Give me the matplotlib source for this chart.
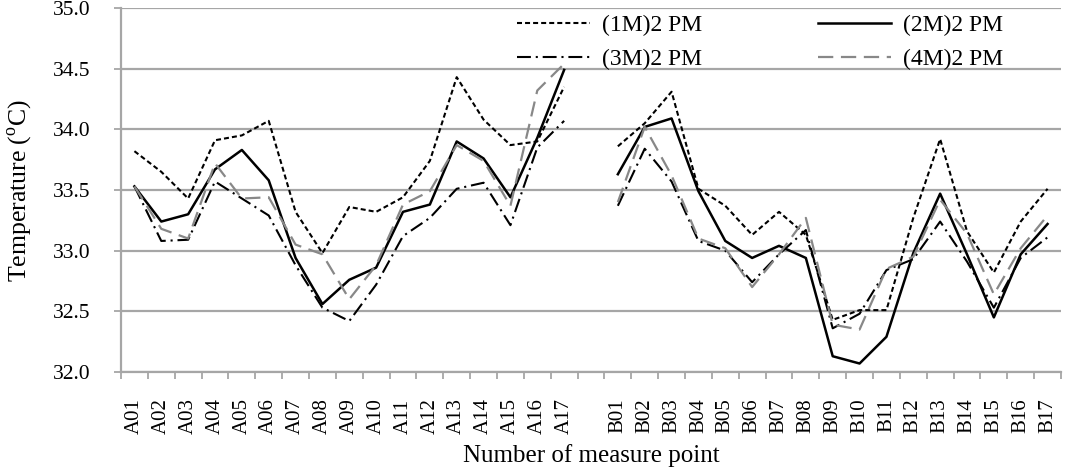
import numpy as np
import matplotlib
matplotlib.use("Agg")
import matplotlib.pyplot as plt

plt.rcParams['font.family'] = ['Liberation Serif', 'DejaVu Serif']
plt.rcParams['mathtext.fontset'] = 'custom'
plt.rcParams['mathtext.rm'] = 'Liberation Serif'
plt.rcParams['lines.scale_dashes'] = False

labels_a = [f"A{i:02d}" for i in range(1, 18)]
labels_b = [f"B{i:02d}" for i in range(1, 18)]
categories = labels_a + [""] + labels_b

m1_a = [33.82, 33.65, 33.43, 33.91, 33.95, 34.07, 33.32, 32.98, 33.36, 33.32, 33.44, 33.74, 34.43, 34.08, 33.87, 33.90, 34.35]
m1_b = [33.86, 34.05, 34.31, 33.51, 33.37, 33.13, 33.32, 33.13, 32.43, 32.51, 32.51, 33.27, 33.92, 33.16, 32.82, 33.24, 33.51]
m2_a = [33.53, 33.24, 33.30, 33.67, 33.83, 33.58, 32.94, 32.56, 32.76, 32.86, 33.32, 33.38, 33.90, 33.76, 33.44, 33.93, 34.49]
m2_b = [33.63, 34.02, 34.09, 33.49, 33.08, 32.94, 33.04, 32.94, 32.13, 32.07, 32.29, 32.98, 33.47, 32.97, 32.45, 32.97, 33.22]
m3_a = [33.53, 33.08, 33.09, 33.57, 33.43, 33.29, 32.88, 32.53, 32.42, 32.72, 33.12, 33.27, 33.51, 33.56, 33.21, 33.85, 34.07]
m3_b = [33.37, 33.84, 33.57, 33.08, 33.00, 32.74, 32.97, 33.17, 32.36, 32.48, 32.84, 32.93, 33.24, 32.91, 32.53, 32.94, 33.11]
m4_a = [33.53, 33.18, 33.10, 33.72, 33.43, 33.44, 33.05, 32.97, 32.60, 32.88, 33.38, 33.49, 33.87, 33.74, 33.37, 34.32, 34.54]
m4_b = [33.40, 34.02, 33.62, 33.10, 33.02, 32.70, 32.97, 33.27, 32.39, 32.35, 32.85, 32.95, 33.42, 33.14, 32.64, 33.02, 33.29]

series_names = ["(1M)2 PM", "(2M)2 PM", "(3M)2 PM", "(4M)2 PM"]


def join(a, b):
    return np.array(a + [np.nan] + b, dtype=float)


data = [join(m1_a, m1_b), join(m2_a, m2_b), join(m3_a, m3_b), join(m4_a, m4_b)]
styles = [
    dict(color='black', lw=1.5, linestyle=(0, (3.6, 2.2))),
    dict(color='black', lw=1.8, linestyle='-'),
    dict(color='black', lw=1.5, linestyle=(0, (10, 3.5, 1.5, 3.5))),
    dict(color='#888888', lw=1.6, linestyle=(0, (11, 5.5))),
]

fig = plt.figure(figsize=(10.73, 4.74), dpi=100)
ax = fig.add_axes([121 / 1073, 1 - 372 / 474, 940 / 1073, 364 / 474])

x = np.arange(len(categories))
lines = []
for d, st, name in zip(data, styles, series_names):
    ln, = ax.plot(x, d, label=name, **st)
    lines.append(ln)

ax.set_xlim(-0.5, len(categories) - 0.5)
ax.set_ylim(32.0, 35.0)
ax.set_yticks(np.arange(32.0, 35.01, 0.5))
ax.set_yticklabels([f"{v:.1f}" for v in np.arange(32.0, 35.01, 0.5)])
ax.yaxis.grid(True, color='#a6a6a6', lw=1.6)
ax.set_axisbelow(True)

ax.set_xticks(x)
ax.set_xticklabels(categories, rotation=90, va='top', ha='center')
ax.set_xticks(np.arange(-0.5, len(categories), 1.0), minor=True)
ax.tick_params(axis='x', which='major', length=0, pad=19, labelsize=15)
ax.tick_params(axis='x', which='minor', length=5, width=1.3, color='#a6a6a6', direction='out')
ax.tick_params(axis='y', length=5, width=1.3, color='#a6a6a6', pad=17, labelsize=15.5)

for s in ['top', 'right']:
    ax.spines[s].set_visible(False)
for s in ['left', 'bottom']:
    ax.spines[s].set_color('#a6a6a6')
    ax.spines[s].set_linewidth(1.6)

ax.set_ylabel(r'Temperature ($^{\mathrm{o}}$C)', fontsize=18.5)
ax.yaxis.set_label_coords(-0.093, 0.5)
ax.set_xlabel('Number of measure point', fontsize=18)
ax.xaxis.set_label_coords(0.5, -0.198)

order = [0, 2, 1, 3]
leg = ax.legend([lines[i] for i in order], [series_names[i] for i in order],
                ncol=2, frameon=False, fontsize=17,
                loc='upper left', bbox_to_anchor=(517 / 1073, 1 - 15 / 474),
                bbox_transform=fig.transFigure, borderpad=0, borderaxespad=0,
                handlelength=3.1, handletextpad=0.5, columnspacing=4.9,
                labelspacing=0.5)

fig.savefig('out.png', dpi=100)
